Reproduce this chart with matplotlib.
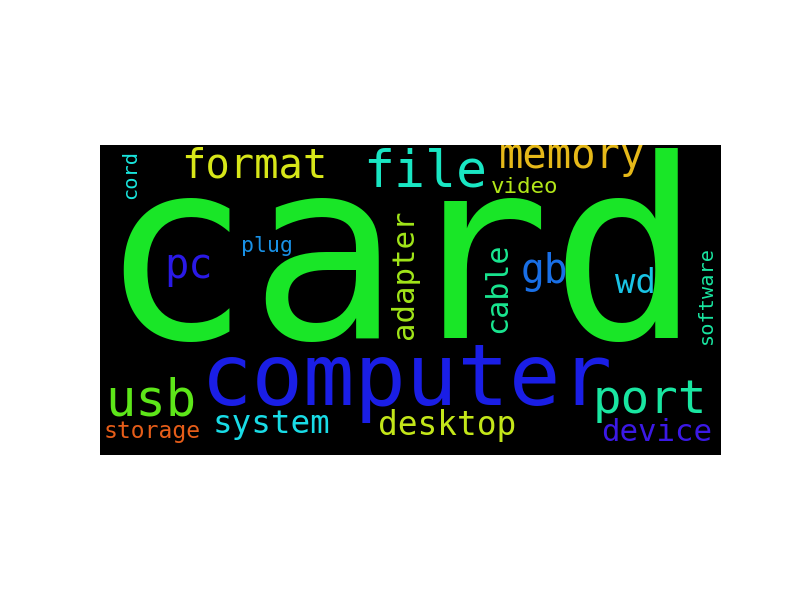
import matplotlib
matplotlib.use("Agg")
import matplotlib.pyplot as plt
from matplotlib.font_manager import FontProperties
from matplotlib.textpath import TextPath

# words of the cloud and their relative weight (size of the word, card = 1)
words = ["card", "computer", "file", "usb", "port", "format", "memory",
         "pc", "gb", "wd", "desktop", "system", "device", "adapter",
         "cable", "storage", "video", "plug", "software", "cord"]
weights = [1.00, 0.342, 0.206, 0.202, 0.190, 0.162, 0.162,
           0.161, 0.158, 0.136, 0.131, 0.130, 0.123, 0.123,
           0.120, 0.092, 0.090, 0.086, 0.081, 0.081]

colors = ["#19e627", "#1a1ee6", "#19e6c3", "#5de619", "#19e6a1", "#d7e619",
          "#e6b919", "#2a19e6", "#196fe6", "#19c4e6", "#c3e619", "#19dce6",
          "#3b19e6", "#a1e619", "#19e690", "#e65d19", "#b2e619", "#1991e6",
          "#19e6a1", "#19e6de"]

# where each word sits, in pixels of the 800x600 figure
# horizontal: (ink left x, baseline y); vertical: (baseline x, ink bottom y)
layout = {
    "card": (123, 338, 0), "computer": (209, 405, 0), "file": (368, 187, 0),
    "usb": (110, 416, 0), "port": (597, 413, 0), "format": (185, 178, 0),
    "memory": (501, 168, 0), "pc": (168, 278, 0), "gb": (523, 283, 0),
    "wd": (615, 293, 0), "desktop": (380, 435, 0), "system": (216, 433, 0),
    "device": (603, 441, 0), "storage": (106, 438, 0), "video": (492, 193, 0),
    "plug": (243, 252, 0), "adapter": (413, 337, 90), "cable": (506, 330, 90),
    "software": (712, 342, 90), "cord": (136, 197, 90),
}

MAX_EM = 250  # em size of the biggest word in pixels
DPI = 100

fp = FontProperties(family="DejaVu Sans Mono")

fig = plt.figure(figsize=(8, 6), dpi=DPI)
ax = fig.add_axes([100 / 800, 145 / 600, 621 / 800, 310 / 600])
ax.set_facecolor("black")
ax.set_xlim(100, 721)
ax.set_ylim(455, 145)
ax.set_xticks([])
ax.set_yticks([])
for sp in ax.spines.values():
    sp.set_visible(False)

for word, w, col in zip(words, weights, colors):
    em = w * MAX_EM
    x, y, rot = layout[word]
    # shift by the left side bearing so the ink starts where it should
    bearing = TextPath((0, 0), word, size=em, prop=fp).get_extents().x0
    if rot == 0:
        x = x - bearing
    else:
        y = y + bearing
    ax.text(x, y, word, color=col, fontproperties=fp,
            fontsize=em * 72 / DPI, rotation=rot, rotation_mode="anchor",
            ha="left", va="baseline", clip_on=True)

fig.savefig("out.png", dpi=DPI)
